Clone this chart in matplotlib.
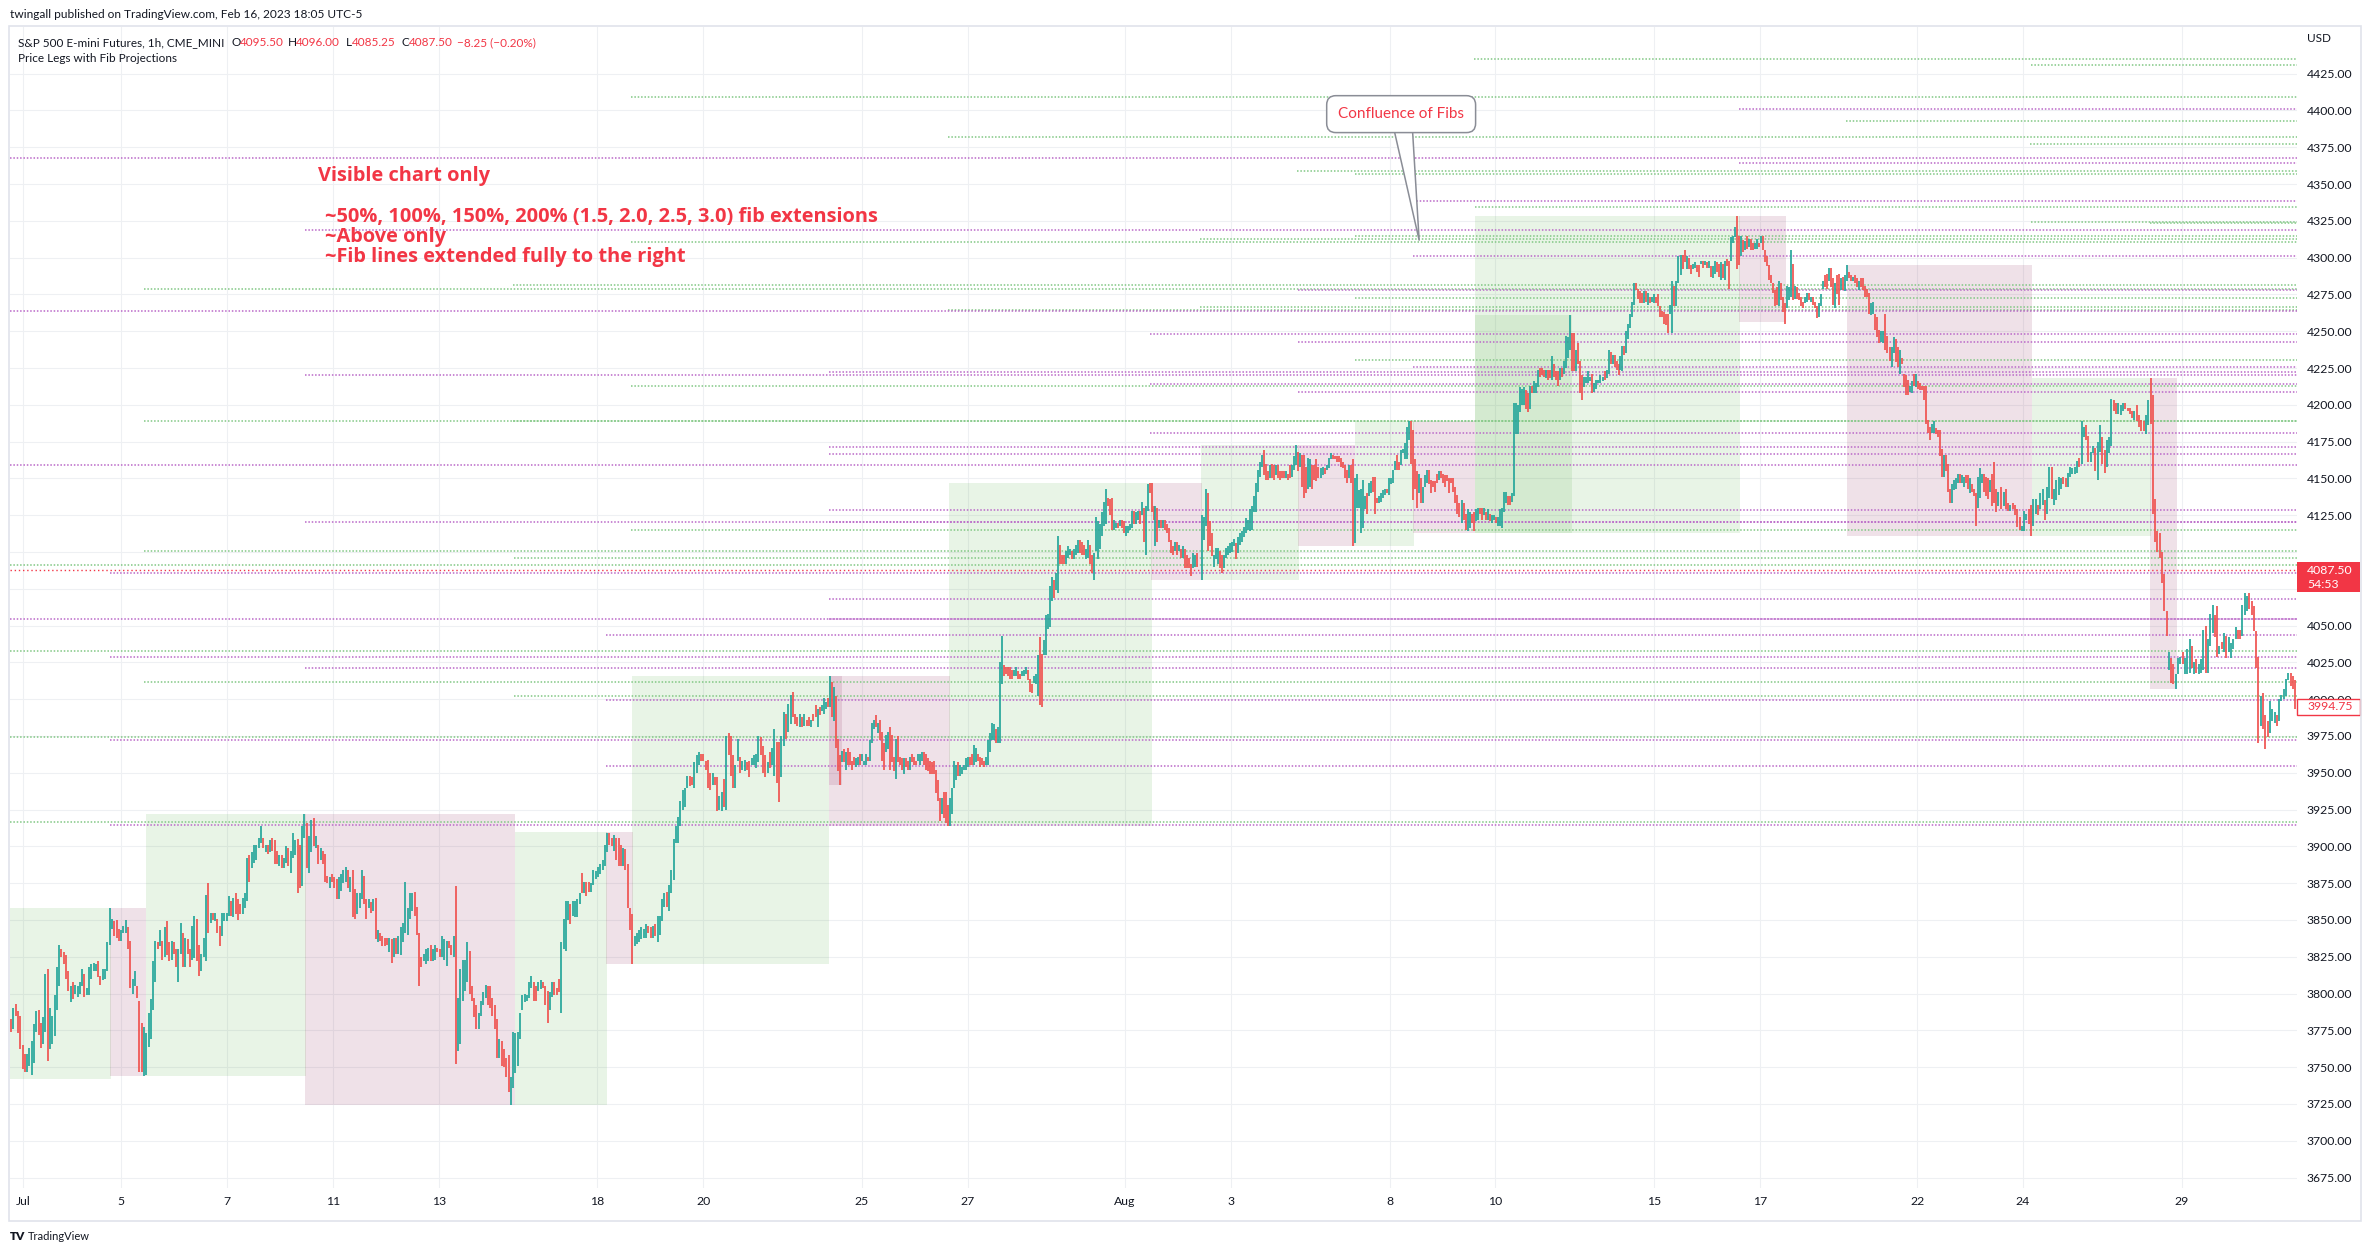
import numpy as np
import matplotlib
matplotlib.use("Agg")
import matplotlib.pyplot as plt
import matplotlib.transforms as mtransforms
from matplotlib.patches import Rectangle

plt.rcParams["font.family"] = ["Lato", "DejaVu Sans"]

W, H = 2371, 1255
INK, RED, UP, DOWN = "#131722", "#f23645", "#26a69a", "#ef5350"
GREEN_LINE, PURPLE_LINE = "#81c784", "#ba68c8"
GREEN_FILL, PINK_FILL = "#4eaa3f", "#84184e"
GRID, FRAME, CALLOUT_EDGE = "#eef0f3", "#e0e3eb", "#8a8d96"

# x axis = trading days since Jul 1 2022 (date labels sit at these positions)
DAY_POS = [0.0, 1.86, 3.86, 5.86, 7.86, 10.86, 12.86, 15.86, 17.86, 20.83,
           22.83, 25.83, 27.83, 30.83, 32.83, 35.8, 37.8, 40.8]
DAY_LAB = ["Jul", "5", "7", "11", "13", "18", "20", "25", "27", "Aug",
           "3", "8", "10", "15", "17", "22", "24", "29"]
PRICE_TICKS = [3675, 3700, 3725, 3750, 3775, 3800, 3825, 3850, 3875, 3900, 3925,
               3950, 3975, 4000, 4025, 4050, 4075, 4100, 4125, 4150, 4175, 4200,
               4225, 4250, 4275, 4300, 4325, 4350, 4375, 4400, 4425]
XLIM, YLIM = (-0.24, 42.98), (3667.9, 4456.7)

# ES1! 1h bars as (open, close) in five chunks;
# each chunk's bars are evenly spaced between the two day positions in SEG_SPAN
SEG_SPAN = [(-0.22, 15.03), (15.07, 22.20), (22.28, 30.16), (30.19, 37.33), (37.39, 42.99)]
SEG_A = [
    (3783, 3774), (3776, 3790), (3793, 3785), (3788, 3773), (3785, 3762), (3765, 3749), (3759, 3747),
    (3747, 3759), (3751, 3763), (3745, 3768), (3753, 3779), (3774, 3788), (3789, 3772), (3780, 3763),
    (3766, 3784), (3774, 3813), (3817, 3754), (3762, 3790), (3766, 3785), (3771, 3799), (3789, 3818),
    (3805, 3833), (3830, 3825), (3828, 3820), (3826, 3810), (3815, 3802), (3794, 3805), (3808, 3796),
    (3800, 3806), (3798, 3805), (3800, 3808), (3805, 3817), (3813, 3798), (3799, 3804), (3799, 3818),
    (3810, 3820), (3815, 3821), (3815, 3820), (3822, 3811), (3812, 3806), (3809, 3817), (3810, 3817),
    (3815, 3835), (3833, 3858), (3844, 3851), (3849, 3839), (3850, 3838), (3844, 3836), (3836, 3843),
    (3841, 3846), (3841, 3850), (3845, 3830), (3836, 3804), (3800, 3810), (3805, 3815), (3805, 3797),
    (3795, 3747), (3780, 3747), (3744, 3777), (3745, 3773), (3764, 3787), (3769, 3796), (3789, 3822),
    (3808, 3836), (3835, 3830), (3832, 3843), (3836, 3823), (3825, 3845), (3849, 3826), (3835, 3822),
    (3823, 3836), (3835, 3827), (3830, 3818), (3808, 3830), (3827, 3848), (3841, 3818), (3818, 3838),
    (3837, 3827), (3830, 3818), (3823, 3846), (3824, 3853), (3851, 3822), (3833, 3812), (3815, 3827),
    (3825, 3838), (3822, 3867), (3875, 3841), (3848, 3855), (3855, 3850), (3849, 3855), (3851, 3841),
    (3846, 3832), (3839, 3855), (3849, 3855), (3849, 3855), (3853, 3866), (3863, 3853), (3852, 3865),
    (3868, 3854), (3864, 3850), (3861, 3854), (3854, 3865), (3858, 3868), (3863, 3892), (3894, 3876),
    (3885, 3896), (3889, 3901), (3891, 3901), (3899, 3906), (3902, 3914), (3906, 3899), (3896, 3901),
    (3901, 3895), (3896, 3904), (3906, 3897), (3904, 3888), (3897, 3888), (3887, 3894), (3894, 3885),
    (3885, 3892), (3889, 3900), (3899, 3887), (3882, 3897), (3892, 3909), (3894, 3904), (3905, 3868),
    (3901, 3872), (3873, 3914), (3906, 3922), (3916, 3885), (3882, 3907), (3896, 3918), (3919, 3900),
    (3899, 3907), (3901, 3888), (3891, 3899), (3897, 3888), (3895, 3876), (3880, 3875), (3872, 3879),
    (3881, 3876), (3879, 3872), (3878, 3864), (3864, 3879), (3870, 3881), (3875, 3884), (3876, 3886),
    (3884, 3872), (3869, 3879), (3884, 3852), (3871, 3851), (3854, 3868), (3858, 3868), (3864, 3884),
    (3880, 3861), (3864, 3851), (3858, 3864), (3862, 3855), (3856, 3864), (3865, 3837), (3835, 3843),
    (3841, 3836), (3839, 3832), (3838, 3832), (3838, 3833), (3828, 3838), (3837, 3821), (3825, 3838),
    (3838, 3827), (3827, 3839), (3826, 3845), (3835, 3848), (3841, 3876), (3840, 3858), (3851, 3868),
    (3856, 3868), (3869, 3853), (3859, 3840), (3841, 3805), (3825, 3818), (3822, 3827), (3820, 3830),
    (3822, 3831), (3833, 3822), (3822, 3830), (3823, 3833), (3831, 3828), (3830, 3825), (3825, 3839),
    (3823, 3837), (3819, 3836), (3836, 3831), (3833, 3826), (3825, 3839), (3873, 3752), (3761, 3797),
    (3766, 3817), (3795, 3823), (3802, 3823), (3808, 3835), (3829, 3800), (3805, 3795), (3797, 3784),
    (3792, 3776), (3776, 3787), (3785, 3795), (3792, 3801), (3797, 3806), (3805, 3792), (3805, 3790),
    (3797, 3785), (3792, 3776), (3783, 3756), (3756, 3769), (3768, 3751), (3762, 3750), (3756, 3743),
    (3758, 3733), (3724, 3743), (3736, 3774), (3746, 3773), (3751, 3774), (3769, 3787), (3789, 3799),
    (3794, 3800), (3795, 3799), (3797, 3808), (3804, 3812), (3808, 3795), (3805, 3795), (3802, 3808),
    (3803, 3809), (3808, 3804), (3805, 3792), (3802, 3780), (3789, 3801), (3798, 3808), (3808, 3799),
    (3804, 3799), (3810, 3801), (3787, 3835), (3830, 3851), (3829, 3863), (3850, 3863), (3861, 3847),
    (3853, 3863), (3852, 3863), (3852, 3864), (3861, 3868), (3882, 3868), (3868, 3876), (3876, 3866),
    (3876, 3869), (3869, 3875), (3874, 3884), (3878, 3883), (3879, 3886), (3881, 3888), (3884, 3891),
    (3887, 3901), (3896, 3909), (3909, 3901), (3906, 3900), (3897, 3908), (3906, 3891), (3906, 3887),
    (3901, 3887), (3887, 3899), (3898, 3884), (3888, 3858), (3858, 3843), (3854, 3820), (3832, 3839),
    (3834, 3841), (3835, 3843), (3837, 3845), (3838, 3844), (3838, 3847), (3846, 3841), (3845, 3838),
    (3838, 3846), (3847, 3839), (3835, 3853), (3840, 3853), (3849, 3864), (3859, 3868), (3869, 3859),
    (3856, 3874), (3868, 3884), (3877, 3905), (3902, 3914), (3902, 3920), (3914, 3931), (3925, 3938),
    (3927, 3940), (3940, 3948), (3948, 3941), (3947, 3942), (3940, 3957), (3950, 3962), (3955, 3964),
    (3963, 3958), (3963, 3958), (3958, 3952), (3959, 3940), (3950, 3938), (3942, 3950), (3947, 3942),
    (3947, 3924), (3925, 3934), (3924, 3937), (3946, 3927), (3925, 3975), (3977, 3962), (3975, 3948),
    (3962, 3940), (3940, 3955), (3958, 3973), (3961, 3950), (3952, 3958), (3951, 3959), (3957, 3952),
    (3958, 3947), (3955, 3960), (3955, 3962), (3953, 3963), (3957, 3975), (3974, 3962), (3968, 3950),
    (3962, 3947), (3950, 3957), (3964, 3953), (3955, 3967), (3948, 3980), (3971, 3943), (3971, 3930),
    (3947, 3975), (3968, 3991), (3990, 3973), (3978, 3997), (3983, 4003), (4005, 3988), (3990, 3983),
    (3988, 3982), (3981, 3990), (3988, 3981), (3982, 3990), (3986, 3982), (3988, 3982), (3981, 3986),
    (3990, 3985), (3996, 3988), (3981, 3993),
]
SEG_B = [
    (3995, 3989), (3992, 3996), (3990, 4001), (3993, 3998), (4001, 3995), (3995, 4016), (4012, 3988),
    (3985, 4008), (4002, 3967), (3973, 3951), (3962, 3942), (3957, 3965), (3966, 3957), (3952, 3964),
    (3967, 3955), (3964, 3955), (3958, 3952), (3961, 3955), (3954, 3960), (3955, 3961), (3963, 3955),
    (3958, 3963), (3955, 3958), (3955, 3963), (3961, 3958), (3958, 3972), (3970, 3984), (3980, 3986),
    (3989, 3981), (3977, 3984), (3986, 3972), (3978, 3958), (3970, 3952), (3964, 3976), (3966, 3978),
    (3981, 3952), (3976, 3957), (3961, 3951), (3946, 3973), (3975, 3957), (3961, 3955), (3960, 3952),
    (3949, 3960), (3960, 3954), (3958, 3952), (3952, 3961), (3963, 3957), (3961, 3955), (3958, 3955),
    (3958, 3963), (3955, 3963), (3958, 3964), (3964, 3955), (3963, 3952), (3960, 3951), (3958, 3949),
    (3957, 3949), (3958, 3949), (3952, 3936), (3945, 3931), (3933, 3917), (3922, 3933), (3937, 3919),
    (3937, 3916), (3928, 3914), (3914, 3933), (3922, 3940), (3940, 3958), (3945, 3955), (3957, 3948),
    (3948, 3955), (3949, 3954), (3952, 3955), (3952, 3960), (3954, 3961), (3961, 3955), (3963, 3955),
    (3955, 3969), (3957, 3967), (3963, 3958), (3961, 3954), (3960, 3955), (3958, 3954), (3955, 3961),
    (3955, 3972), (3964, 3977), (3972, 3984), (3972, 3983), (3980, 3970), (3970, 3981), (3970, 4025),
    (4010, 4043), (4023, 4016), (4022, 4017), (4022, 4016), (4022, 4014), (4020, 4014), (4016, 4020),
    (4016, 4022), (4019, 4014), (4017, 4014), (4016, 4019), (4016, 4020), (4017, 4022), (4020, 4013),
    (4014, 4005), (4010, 4004), (4011, 4016), (4010, 4017), (4002, 4030), (4042, 3996), (4031, 3995),
    (4030, 4040), (4030, 4057), (4048, 4058), (4049, 4077), (4067, 4083), (4081, 4069), (4074, 4086),
    (4072, 4111), (4105, 4092), (4098, 4092), (4098, 4092), (4092, 4101), (4096, 4104), (4098, 4102),
    (4101, 4095), (4095, 4102), (4098, 4105), (4099, 4108), (4108, 4099), (4107, 4098), (4105, 4098),
    (4095, 4102), (4096, 4108), (4105, 4092), (4098, 4086), (4081, 4099), (4101, 4124), (4095, 4121),
    (4102, 4119), (4111, 4127), (4118, 4134), (4119, 4143), (4137, 4131), (4136, 4125), (4137, 4115),
    (4115, 4122), (4116, 4120), (4120, 4116), (4118, 4122), (4122, 4116), (4121, 4113), (4111, 4118),
    (4113, 4118), (4115, 4119), (4116, 4128), (4128, 4119), (4119, 4127), (4122, 4128), (4128, 4119),
    (4125, 4134), (4130, 4107), (4098, 4131), (4128, 4146), (4147, 4140), (4147, 4127), (4131, 4122),
    (4104, 4131), (4130, 4107), (4116, 4122), (4122, 4116), (4116, 4122), (4122, 4115), (4119, 4113),
    (4116, 4107), (4108, 4099), (4104, 4098), (4101, 4107), (4107, 4098), (4101, 4105), (4102, 4096),
    (4096, 4104), (4102, 4089), (4098, 4089), (4096, 4089), (4092, 4084), (4089, 4099), (4090, 4098),
    (4099, 4090),
]
SEG_C = [
    (4081, 4125), (4108, 4124), (4118, 4143), (4140, 4101), (4121, 4104), (4113, 4097), (4090, 4098),
    (4095, 4103), (4092, 4103), (4101, 4089), (4098, 4086), (4089, 4098), (4096, 4103), (4098, 4104),
    (4099, 4106), (4100, 4107), (4104, 4109), (4106, 4095), (4099, 4110), (4105, 4113), (4107, 4114),
    (4110, 4117), (4113, 4123), (4115, 4122), (4114, 4129), (4115, 4131), (4127, 4138), (4127, 4147),
    (4141, 4156), (4151, 4161), (4158, 4166), (4169, 4152), (4160, 4149), (4155, 4149), (4150, 4159),
    (4160, 4150), (4159, 4149), (4152, 4159), (4159, 4150), (4155, 4149), (4155, 4150), (4155, 4150),
    (4150, 4155), (4153, 4149), (4159, 4150), (4151, 4159), (4156, 4165), (4159, 4173), (4168, 4155),
    (4158, 4167), (4166, 4144), (4166, 4137), (4158, 4140), (4143, 4164), (4144, 4163), (4159, 4143),
    (4159, 4149), (4163, 4148), (4158, 4150), (4150, 4157), (4152, 4158), (4157, 4153), (4156, 4159),
    (4157, 4164), (4163, 4167), (4166, 4163), (4165, 4163), (4165, 4161), (4165, 4161), (4164, 4158),
    (4161, 4157), (4159, 4150), (4156, 4147), (4150, 4159), (4159, 4147), (4163, 4104), (4106, 4150),
    (4130, 4153), (4130, 4142), (4113, 4143), (4116, 4149), (4129, 4138), (4140, 4126), (4138, 4147),
    (4140, 4148), (4151, 4141), (4151, 4126), (4137, 4133), (4133, 4138), (4134, 4140), (4137, 4142),
    (4139, 4143), (4143, 4140), (4139, 4150), (4146, 4150), (4147, 4156), (4156, 4162), (4166, 4156),
    (4161, 4156), (4159, 4169), (4167, 4170), (4163, 4174), (4163, 4185), (4176, 4189), (4189, 4160),
    (4183, 4135), (4163, 4143), (4155, 4130), (4140, 4153), (4150, 4133), (4133, 4144), (4144, 4152),
    (4147, 4156), (4156, 4146), (4149, 4140), (4148, 4144), (4148, 4141), (4153, 4147), (4149, 4155),
    (4155, 4150), (4153, 4147), (4152, 4144), (4152, 4148), (4150, 4140), (4150, 4147), (4150, 4141),
    (4144, 4133), (4139, 4126), (4133, 4124), (4120, 4135), (4133, 4122), (4126, 4115), (4114, 4129),
    (4116, 4127), (4126, 4120), (4127, 4114), (4121, 4129), (4122, 4130), (4130, 4126), (4130, 4122),
    (4125, 4130), (4127, 4122), (4122, 4129), (4126, 4121), (4120, 4125), (4122, 4125), (4124, 4120),
    (4118, 4124), (4118, 4129), (4116, 4130), (4127, 4141), (4133, 4141), (4138, 4132), (4138, 4132),
    (4134, 4140), (4138, 4201), (4180, 4201), (4180, 4200), (4195, 4212), (4200, 4211), (4200, 4212),
    (4210, 4197), (4208, 4195), (4197, 4213), (4213, 4208), (4208, 4216), (4208, 4215), (4212, 4224),
    (4225, 4219), (4225, 4220), (4224, 4219), (4218, 4224), (4224, 4217), (4224, 4218), (4217, 4233),
    (4228, 4219), (4223, 4217), (4223, 4213), (4217, 4225), (4225, 4219), (4221, 4230), (4225, 4247),
    (4232, 4246), (4237, 4261), (4249, 4223), (4249, 4223), (4223, 4237), (4242, 4228), (4230, 4208),
    (4220, 4203), (4212, 4219), (4215, 4219), (4215, 4223), (4216, 4219), (4221, 4208), (4209, 4215),
    (4211, 4217), (4215, 4217), (4215, 4220), (4216, 4219), (4223, 4217), (4218, 4224), (4221, 4237),
    (4236, 4228), (4228, 4234), (4234, 4226), (4230, 4224), (4228, 4220),
]
SEG_D = [
    (4224, 4233), (4223, 4240), (4240, 4234), (4235, 4250), (4245, 4255), (4252, 4262), (4260, 4270),
    (4268, 4283), (4283, 4278), (4279, 4272), (4277, 4269), (4276, 4269), (4269, 4277), (4277, 4270),
    (4268, 4276), (4273, 4269), (4270, 4273), (4269, 4275), (4273, 4269), (4275, 4267), (4267, 4260),
    (4264, 4260), (4263, 4255), (4262, 4254), (4262, 4249), (4262, 4268), (4249, 4284), (4281, 4267),
    (4267, 4284), (4283, 4301), (4288, 4302), (4302, 4292), (4305, 4297), (4292, 4301), (4300, 4292),
    (4295, 4289), (4292, 4296), (4293, 4297), (4295, 4290), (4295, 4287), (4296, 4298), (4298, 4293),
    (4295, 4298), (4297, 4293), (4293, 4298), (4294, 4287), (4286, 4294), (4289, 4298), (4297, 4290),
    (4296, 4287), (4285, 4297), (4296, 4286), (4285, 4298), (4299, 4294), (4298, 4279), (4298, 4314),
    (4310, 4315), (4314, 4321), (4328, 4292), (4315, 4295), (4301, 4315), (4312, 4304), (4305, 4311),
    (4315, 4306), (4307, 4313), (4313, 4305), (4310, 4305), (4306, 4310), (4306, 4313), (4310, 4307),
    (4310, 4315), (4315, 4305), (4305, 4297), (4301, 4294), (4295, 4285), (4288, 4283), (4283, 4276),
    (4278, 4267), (4280, 4268), (4267, 4284), (4283, 4271), (4273, 4263), (4269, 4255), (4266, 4281),
    (4271, 4280), (4273, 4305), (4296, 4271), (4272, 4281), (4280, 4272), (4276, 4271), (4273, 4267),
    (4270, 4266), (4269, 4273), (4270, 4276), (4276, 4271), (4270, 4273), (4273, 4268), (4270, 4266),
    (4267, 4259), (4260, 4269), (4267, 4275), (4279, 4284), (4288, 4280), (4289, 4279), (4284, 4293),
    (4293, 4280), (4286, 4268), (4266, 4283), (4288, 4275), (4289, 4268), (4278, 4286), (4287, 4278),
    (4277, 4288), (4284, 4295), (4290, 4286), (4288, 4284), (4284, 4287), (4288, 4283), (4286, 4280),
    (4278, 4284), (4286, 4280), (4286, 4278), (4281, 4273), (4279, 4273), (4276, 4262), (4261, 4269),
    (4262, 4270), (4262, 4251), (4260, 4246), (4251, 4242), (4243, 4250), (4242, 4250), (4262, 4237),
    (4247, 4235), (4239, 4230), (4226, 4239), (4235, 4246), (4245, 4229), (4239, 4226), (4221, 4237),
    (4232, 4228), (4221, 4212), (4220, 4207), (4217, 4207), (4209, 4213), (4208, 4216), (4221, 4213),
    (4212, 4221), (4216, 4211), (4215, 4210), (4213, 4210), (4213, 4203), (4213, 4187), (4190, 4181),
    (4185, 4176), (4181, 4187), (4181, 4189), (4184, 4180), (4183, 4178), (4183, 4165), (4170, 4151),
    (4151, 4166), (4166, 4155), (4160, 4141), (4143, 4133), (4133, 4146), (4142, 4149), (4143, 4150),
    (4147, 4153), (4153, 4147), (4147, 4152), (4144, 4151), (4152, 4147), (4152, 4143), (4140, 4150),
    (4146, 4141), (4143, 4138), (4140, 4118), (4130, 4151), (4137, 4157), (4147, 4153), (4153, 4141),
    (4151, 4138), (4150, 4136), (4141, 4149), (4153, 4131), (4161, 4133), (4143, 4127), (4131, 4141),
]
SEG_E = [
    (4144, 4129), (4131, 4141), (4143, 4129), (4133, 4128), (4128, 4132), (4133, 4129), (4132, 4125),
    (4129, 4117), (4124, 4115), (4114, 4118), (4114, 4128), (4122, 4126), (4129, 4119), (4132, 4111),
    (4118, 4136), (4126, 4136), (4132, 4125), (4129, 4140), (4132, 4143), (4135, 4122), (4126, 4144),
    (4137, 4158), (4158, 4136), (4132, 4143), (4135, 4149), (4139, 4151), (4143, 4150), (4151, 4146),
    (4150, 4144), (4144, 4154), (4151, 4158), (4153, 4157), (4153, 4158), (4154, 4162), (4164, 4158),
    (4160, 4189), (4178, 4185), (4186, 4176), (4179, 4161), (4161, 4168), (4167, 4172), (4171, 4155),
    (4149, 4175), (4168, 4186), (4178, 4160), (4169, 4154), (4158, 4176), (4167, 4178), (4172, 4204),
    (4203, 4196), (4201, 4194), (4194, 4201), (4193, 4200), (4196, 4201), (4201, 4197), (4198, 4196),
    (4198, 4194), (4196, 4191), (4190, 4196), (4200, 4189), (4193, 4185), (4190, 4182), (4189, 4182),
    (4180, 4193), (4186, 4203), (4218, 4187), (4207, 4126), (4136, 4107), (4114, 4100), (4113, 4096),
    (4100, 4079), (4085, 4060), (4060, 4043), (4020, 4032), (4028, 4011), (4024, 4010), (4007, 4017),
    (4017, 4028), (4024, 4029), (4032, 4024), (4017, 4028), (4017, 4034), (4018, 4041), (4036, 4021),
    (4017, 4025), (4027, 4018), (4017, 4024), (4018, 4027), (4020, 4047), (4050, 4018), (4018, 4041),
    (4036, 4058), (4045, 4064), (4057, 4042), (4063, 4029), (4031, 4036), (4039, 4034), (4032, 4045),
    (4043, 4028), (4032, 4042), (4028, 4038), (4034, 4041), (4041, 4049), (4047, 4041), (4047, 4041),
    (4043, 4064), (4057, 4072), (4060, 4070), (4072, 4061), (4067, 4057), (4063, 4046), (4046, 4021),
    (4029, 3970), (3982, 4002), (4004, 3980), (3989, 3966), (3985, 3974), (3977, 3999), (3985, 3993),
    (3984, 3991), (3989, 3982), (3985, 4000), (3999, 4003), (4000, 4007), (4002, 4014), (4013, 4018),
    (4018, 4009), (4016, 4007), (4013, 3993), (4000, 3994.75),
]
SEGMENTS = [SEG_A, SEG_B, SEG_C, SEG_D, SEG_E]

# price-leg boxes: (start day, end day, low, high)
GREEN_BOXES = [(-0.24, 1.67, 3742, 3858), (2.33, 5.35, 3744, 3922), (9.30, 11.04, 3724, 3910),
               (11.51, 15.24, 3820, 4016), (17.50, 21.34, 3914, 4147), (22.27, 24.12, 4081, 4173),
               (25.18, 26.29, 4104, 4189), (27.44, 32.45, 4113, 4328), (27.44, 29.28, 4113, 4261),
               (37.97, 40.22, 4111, 4218)]
PINK_BOXES = [(1.65, 2.33, 3744, 3858), (5.34, 9.30, 3724, 3922), (11.02, 11.53, 3820, 3910),
              (15.24, 17.52, 3914, 4016), (15.24, 15.48, 3942, 4016), (21.32, 22.28, 4081, 4147),
              (24.10, 25.18, 4104, 4173), (26.27, 27.44, 4113, 4189), (32.43, 33.32, 4256, 4328),
              (34.47, 37.97, 4111, 4295), (40.20, 40.71, 4007, 4218)]

# fib projection levels: (start day, price), all extended to the right edge
GREEN_FIBS = [(27.43, 4434.9), (37.95, 4430.8), (11.49, 4408.9), (34.46, 4392.8), (17.49, 4381.7),
              (37.94, 4377.4), (24.08, 4359.1), (25.18, 4356.8), (27.45, 4334.6), (37.95, 4323.9),
              (40.21, 4323.2), (25.18, 4314.7), (22.25, 4313.0), (11.49, 4310.7), (9.27, 4281.5),
              (2.29, 4278.5), (25.18, 4272.8), (22.25, 4266.8), (17.49, 4264.4), (25.18, 4230.6),
              (11.49, 4212.8), (2.29, 4189.1), (9.27, 4189.0), (11.49, 4114.8), (2.29, 4100.4),
              (9.28, 4095.7), (-0.24, 4091.2), (-0.24, 4032.9), (2.29, 4011.4), (9.28, 4002.5),
              (-0.24, 3974.4), (-0.24, 3916.3)]
PURPLE_FIBS = [(32.43, 4401.0), (-0.24, 4368.0), (32.44, 4364.5), (26.28, 4338.5), (5.34, 4319.0),
               (26.28, 4300.8), (24.11, 4278.0), (-0.24, 4263.7), (21.30, 4248.0), (24.11, 4242.9),
               (26.28, 4225.8), (15.24, 4222.5), (5.34, 4220.1), (21.30, 4214.2), (24.11, 4208.6),
               (21.30, 4181.1), (15.24, 4171.4), (15.24, 4166.5), (-0.24, 4159.4), (15.24, 4128.8),
               (15.24, 4120.4), (5.34, 4120.6), (1.65, 4085.9), (15.24, 4068.3), (-0.24, 4054.7),
               (15.24, 4054.4), (11.02, 4043.8), (1.65, 4028.9), (5.34, 4021.5), (11.02, 3999.2),
               (1.65, 3972.0), (11.02, 3954.4), (1.65, 3914.8)]

LAST_PRICE, LAST_BAR_CLOSE = 4087.50, 3994.75
NOTES = ["Visible chart only", "~50%, 100%, 150%, 200% (1.5, 2.0, 2.5, 3.0) fib extensions",
         "~Above only", "~Fib lines extended fully to the right"]
NOTE_AT = [(5.575, 4355.4), (5.71, 4327.8), (5.71, 4314.2), (5.71, 4300.6)]
CALLOUT_TIP, CALLOUT_BOX = (26.39, 4311.9), (26.05, 4397.5)


def fx(px):
    return px / W


def fy(py):
    return 1 - py / H


fig = plt.figure(figsize=(W / 100, H / 100), dpi=100)
fig.patch.set_facecolor("white")
ax = fig.add_axes([fx(10), fy(1188), (2297 - 10) / W, (1188 - 27) / H])
ax.set_facecolor("white")
ax.set_xlim(*XLIM)
ax.set_ylim(*YLIM)
for s in ax.spines.values():
    s.set_visible(False)

# the 4075 label sits under the last-price badge on the price scale, so it is left blank
ax.set_xticks(DAY_POS, DAY_LAB)
ax.set_yticks(PRICE_TICKS, ["" if abs(t - LAST_PRICE) < 15 else f"{t:.2f}" for t in PRICE_TICKS])
ax.yaxis.tick_right()
ax.tick_params(axis="x", length=0, pad=6, labelsize=8.8, labelcolor=INK)
ax.tick_params(axis="y", length=0, pad=7, labelsize=8.8, labelcolor=INK)
ax.grid(True, color=GRID, lw=0.8, zorder=0)
ax.set_axisbelow(True)

for x0, x1, lo, hi in GREEN_BOXES:
    ax.add_patch(Rectangle((x0, lo), x1 - x0, hi - lo, fc=GREEN_FILL, alpha=0.13, lw=0, zorder=1))
for x0, x1, lo, hi in PINK_BOXES:
    ax.add_patch(Rectangle((x0, lo), x1 - x0, hi - lo, fc=PINK_FILL, alpha=0.13, lw=0, zorder=1))

dots = (0, (1, 1.2))
g = np.array(GREEN_FIBS)
ax.hlines(g[:, 1], g[:, 0], XLIM[1], colors=GREEN_LINE, lw=1.1, linestyles=[dots], zorder=2)
p = np.array(PURPLE_FIBS)
ax.hlines(p[:, 1], p[:, 0], XLIM[1], colors=PURPLE_LINE, lw=1.1, linestyles=[dots], zorder=2)
ax.axhline(LAST_PRICE, color=RED, lw=1.0, ls=(0, (1, 2)), zorder=2)

for (start, end), seg in zip(SEG_SPAN, SEGMENTS):
    oc = np.array(seg, dtype=float)
    xs = np.linspace(start, end, len(oc))
    up = oc[:, 1] >= oc[:, 0]
    ax.vlines(xs, oc.min(axis=1), oc.max(axis=1), colors=np.where(up, UP, DOWN),
              lw=1.25, zorder=3)

for txt, (x, y) in zip(NOTES, NOTE_AT):
    ax.text(x, y, txt, color=RED, fontsize=14.4, fontweight="bold", ha="left", va="center",
            family=["Open Sans", "DejaVu Sans"], zorder=5)

ax.annotate("Confluence of Fibs", xy=CALLOUT_TIP, xytext=CALLOUT_BOX, ha="center", va="center",
            fontsize=11, color=RED, zorder=6,
            bbox=dict(boxstyle="round,pad=0.75,rounding_size=0.6", fc="white", ec=CALLOUT_EDGE, lw=1.1),
            arrowprops=dict(arrowstyle="wedge,tail_width=0.75,shrink_factor=0.5", fc="white",
                            ec=CALLOUT_EDGE, lw=1.1, patchA=None, shrinkA=0, shrinkB=0,
                            mutation_scale=20))

# price-scale badges
tr = mtransforms.blended_transform_factory(ax.transAxes, ax.transData)
bw = 63 / 2287
ax.add_patch(Rectangle((1.0, LAST_PRICE - 14.7), bw, 20.4, transform=tr, fc=RED, ec="none",
                       clip_on=False, zorder=10))
ax.text(1.0044, LAST_PRICE, f"{LAST_PRICE:.2f}", transform=tr, color="white", fontsize=8.8,
        va="center", ha="left", clip_on=False, zorder=11)
ax.text(1.0044, LAST_PRICE - 9.5, "54:53", transform=tr, color="white", fontsize=8.8,
        va="center", ha="left", clip_on=False, zorder=11)
ax.add_patch(Rectangle((1.0, LAST_BAR_CLOSE - 5.3), bw, 10.6, transform=tr, fc="white", ec=RED,
                       lw=1, clip_on=False, zorder=10))
ax.text(1.0044, LAST_BAR_CLOSE, f"{LAST_BAR_CLOSE:.2f}", transform=tr, color=RED, fontsize=8.8,
        va="center", ha="left", clip_on=False, zorder=11)

# frame and header
fig.add_artist(Rectangle((fx(9), fy(1221)), (2361 - 9) / W, (1221 - 26) / H,
                         transform=fig.transFigure, fill=False, ec=FRAME, lw=1.2))
fig.text(fx(10), fy(14), "twingall published on TradingView.com, Feb 16, 2023 18:05 UTC-5",
         fontsize=8.6, color=INK, va="center")
fig.text(fx(2307), fy(38), "USD", fontsize=8.5, color=INK, va="center")
legend_parts = [("S&P 500 E-mini Futures, 1h, CME_MINI", 18, INK), ("O", 232, INK),
                ("4095.50", 240, RED), ("H", 288, INK), ("4096.00", 296, RED), ("L", 345.5, INK),
                ("4085.25", 352, RED), ("C", 401, INK), ("4087.50", 409, RED),
                ("\u22128.25 (\u22120.20%)", 457, RED)]
for txt, xpx, col in legend_parts:
    fig.text(fx(xpx), fy(43), txt, fontsize=8.5, color=col, va="center")
fig.text(fx(18), fy(59), "Price Legs with Fib Projections", fontsize=8.5, color=INK, va="center")
fig.text(fx(10), fy(1237), "TV", fontsize=8.5, fontweight="heavy", color=INK, va="center")
fig.text(fx(28), fy(1237), "TradingView", fontsize=8, color=INK, va="center")

fig.savefig("out.png", dpi=100, facecolor="white")
